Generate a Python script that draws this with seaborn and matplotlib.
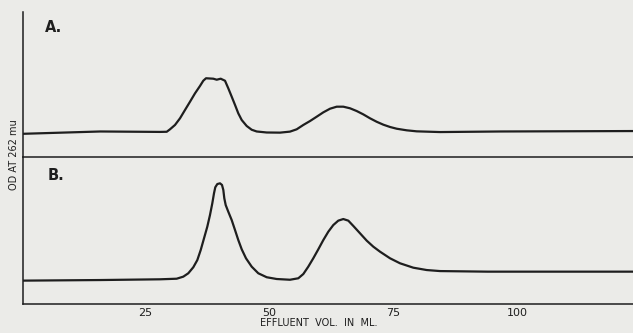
import matplotlib
matplotlib.use("Agg")
import matplotlib.pyplot as plt
import seaborn as sns

# Effluent volume (ml) and OD at 262 mu (arbitrary units)
vol_a = [0.4, 16.0, 28.0, 29.38, 30.04, 31.05, 32.06, 33.06, 34.07, 35.08, 36.09,
         36.75, 37.30, 38.77, 39.46, 40.26, 41.13, 41.79, 42.48, 43.15, 43.81,
         44.50, 45.50, 46.51, 47.52, 49.54, 52.22, 54.23, 55.58, 56.92, 58.27,
         59.62, 60.95, 62.30, 63.65, 64.98, 66.33, 67.68, 69.01, 70.36, 71.71,
         73.04, 74.40, 75.75, 77.76, 79.78, 84.48, 96.8, 123.6]
od_a = [0.160, 0.176, 0.173, 0.174, 0.191, 0.221, 0.267, 0.324, 0.381, 0.439, 0.490,
        0.526, 0.543, 0.540, 0.533, 0.540, 0.526, 0.474, 0.416, 0.359, 0.301,
        0.255, 0.214, 0.188, 0.176, 0.169, 0.168, 0.175, 0.191, 0.221, 0.248,
        0.278, 0.308, 0.333, 0.347, 0.347, 0.336, 0.317, 0.294, 0.267, 0.243,
        0.223, 0.207, 0.195, 0.184, 0.177, 0.172, 0.176, 0.179]

vol_b = [0.4, 16.0, 28.02, 31.38, 32.72, 33.73, 34.74, 35.55, 36.23, 36.90, 37.56,
         38.10, 38.57, 38.91, 39.17, 39.58, 40.12, 40.52, 40.79, 40.99, 41.27,
         41.79, 42.48, 43.15, 43.81, 44.50, 45.36, 46.51, 47.84, 49.54, 51.55,
         54.23, 55.91, 56.92, 57.92, 58.93, 59.94, 60.95, 61.96, 62.96, 63.97,
         64.98, 65.99, 67.00, 68.35, 69.70, 71.03, 72.38, 74.40, 76.41, 79.09,
         81.80, 84.48, 94.1, 123.6]
od_b = [0.159, 0.163, 0.168, 0.172, 0.186, 0.209, 0.250, 0.299, 0.367, 0.447, 0.526,
        0.605, 0.685, 0.753, 0.794, 0.816, 0.821, 0.810, 0.776, 0.719, 0.673,
        0.628, 0.571, 0.503, 0.435, 0.372, 0.311, 0.254, 0.209, 0.182, 0.170,
        0.165, 0.175, 0.204, 0.254, 0.311, 0.372, 0.435, 0.492, 0.537, 0.567,
        0.578, 0.567, 0.531, 0.481, 0.431, 0.390, 0.356, 0.311, 0.277, 0.247,
        0.231, 0.224, 0.220, 0.220]

xticks = [25, 50, 75, 100]
panel_labels = ["A.", "B."]

sns.set_style("white")
plt.rcParams['font.family'] = ['DejaVu Sans']
bg = '#ebebe8'
ink = '#1e1e1e'

fig = plt.figure(figsize=(6.33, 3.33), dpi=100, facecolor=bg)
W, H = 633, 333
left = 23 / W
ax_a = fig.add_axes([left, (H - 157) / H, 1 - left, (157 - 12) / H])
ax_b = fig.add_axes([left, (H - 304) / H, 1 - left, (304 - 157) / H])

xmin = (23 - 21) / 4.96
xmax = (633 - 21) / 4.96

for ax, vx, vy in [(ax_a, vol_a, od_a), (ax_b, vol_b, od_b)]:
    ax.patch.set_visible(False)
    sns.lineplot(x=vx, y=vy, ax=ax, color=ink, linewidth=1.6, sort=False)
    ax.lines[-1].set_solid_joinstyle('round')
    ax.set_xlim(xmin, xmax)
    ax.set_ylim(0, 1)
    ax.set_yticks([])
    for s in ['top', 'right']:
        ax.spines[s].set_visible(False)
    for s in ['left', 'bottom']:
        ax.spines[s].set_color(ink)
        ax.spines[s].set_linewidth(1.1)
    ax.set_xlabel('')
    ax.set_ylabel('')

ax_a.set_xticks([])
ax_a.text((54 - 23) / 610, (157 - 28) / 145, panel_labels[0], fontsize=10.5,
          fontweight='bold', color=ink, ha='center', va='center', transform=ax_a.transAxes)
ax_b.text((56 - 23) / 610, (304 - 176) / 147, panel_labels[1], fontsize=10.5,
          fontweight='bold', color=ink, ha='center', va='center', transform=ax_b.transAxes)

ax_b.spines['top'].set_visible(False)
ax_b.set_xticks(xticks)
ax_b.set_xticklabels([str(t) for t in xticks], fontsize=8, color=ink)
ax_b.tick_params(axis='x', direction='inout', length=4, width=0.8, color=ink, pad=1)
ax_b.set_xlabel('EFFLUENT  VOL.  IN  ML.', fontsize=7, color=ink)
ax_b.xaxis.set_label_coords((319 - 23) / 610, -(323 - 304) / 147)
ax_b.xaxis.label.set_va('center')

fig.text(14 / W, (H - 155) / H, 'OD AT 262 mu', rotation=90, fontsize=7,
         color=ink, ha='center', va='center')

fig.savefig('out.png', dpi=100, facecolor=bg)
